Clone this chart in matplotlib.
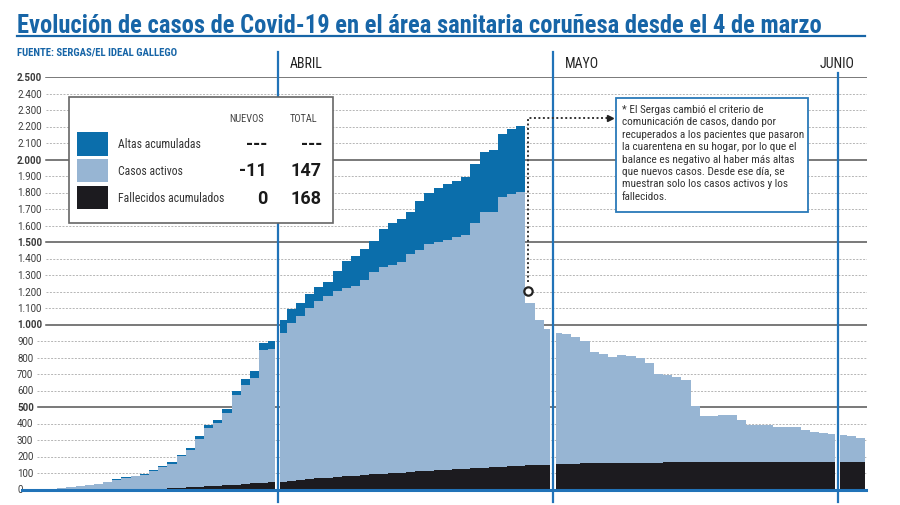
import numpy as np
import matplotlib
matplotlib.use("Agg")
import matplotlib.pyplot as plt
from matplotlib.patches import Rectangle
from matplotlib.lines import Line2D
from matplotlib import transforms

# Datos diarios, del 4 de marzo al 3 de junio
fallecidos_marzo = [0, 0, 0, 0, 0, 0, 0, 0, 0, 0, 0, 0, 2, 3, 4, 6, 8, 10, 13, 16,
                    19, 22, 26, 30, 34, 38, 41, 44]
activos_marzo = [1, 2, 3, 5, 8, 13, 19, 27, 36, 48, 60, 72, 77, 84, 108, 131, 149,
                 195, 225, 291, 351, 383, 435, 545, 599, 639, 804, 809]
altas_marzo = [0, 0, 0, 0, 0, 0, 0, 0, 0, 0, 2, 4, 5, 5, 5, 6, 7, 7, 12, 16, 18, 19,
               24, 25, 38, 40, 44, 46]

fallecidos_abril = [48, 53, 58, 63, 67, 71, 75, 79, 83, 87, 91, 95, 99, 103, 107, 111,
                    114, 117, 120, 123, 126, 129, 132, 135, 138, 141, 144, 147, 149, 151]
activos_abril = [900, 959, 992, 1035, 1078, 1099, 1130, 1144, 1152, 1183, 1229, 1255,
                 1264, 1277, 1323, 1339, 1374, 1383, 1395, 1409, 1417, 1485, 1549, 1546,
                 1632, 1647, 1658, 984, 881, 819]
altas_abril = [77, 83, 83, 84, 85, 87, 120, 160, 181, 188, 187, 230, 252, 261, 252, 300,
               312, 325, 336, 340, 348, 356, 365, 378, 387, 398, 404, 0, 0, 0]

fallecidos_mayo = [155, 155, 156, 160, 160, 160, 160, 160, 160, 160, 160, 160, 165, 165,
                   165, 165, 166, 166, 166, 167, 167, 167, 167, 167, 168, 168, 168, 168,
                   168, 168, 168]
activos_mayo = [794, 786, 767, 739, 672, 660, 642, 656, 650, 640, 606, 541, 530, 516, 496,
                340, 278, 278, 284, 283, 255, 225, 225, 221, 210, 210, 208, 190, 179, 173, 171]

fallecidos_junio = [168, 168, 168]
activos_junio = [165, 158, 147]

meses = ["ABRIL", "MAYO", "JUNIO"]
series = ["Altas acumuladas", "Casos activos", "Fallecidos acumulados"]
nuevos = ["---", "-11", "0"]
totales = ["---", "147", "168"]

titulo = "Evolución de casos de Covid-19 en el área sanitaria coruñesa desde el 4 de marzo"
fuente = "FUENTE: SERGAS/EL IDEAL GALLEGO"
nota = ["* El Sergas cambió el criterio de",
        "comunicación de casos, dando por",
        "recuperados a los pacientes que pasaron",
        "la cuarentena en su hogar, por lo que el",
        "balance es negativo al haber más altas",
        "que nuevos casos. Desde ese día, se",
        "muestran solo los casos activos y los",
        "fallecidos."]

# colores
AZUL_OSC = "#0b6eab"
AZUL_CLA = "#97b5d3"
NEGRO = "#1c1b1f"
AZUL_LIN = "#2173b8"
AZUL_TIT = "#1765a7"
COND = ["Liberation Sans Narrow", "Roboto Condensed", "Roboto", "DejaVu Sans"]
ROB = ["Roboto", "DejaVu Sans"]

f = np.array(fallecidos_marzo + fallecidos_abril + fallecidos_mayo + fallecidos_junio, float)
a = np.array(activos_marzo + activos_abril + activos_mayo + activos_junio, float)
al = np.array(altas_marzo + altas_abril, float)
al = np.concatenate([al, np.zeros(len(a) - len(al))])
n = len(a)

W, H = 900, 506
DAY = 9.18
X0, Y0 = 20.5, 490.5
PXV = 0.165
XMAX = 92.25

fig = plt.figure(figsize=(9, 5.06), dpi=100)
fig.patch.set_facecolor("white")
ax = fig.add_axes([X0 / W, (H - Y0) / H, XMAX * DAY / W, 2500 * PXV / H])
ax.set_xlim(0, XMAX)
ax.set_ylim(0, 2500)
ax.axis("off")

def fx(x):
    return x / W

def fy(y):
    return 1 - y / H

# escalones diarios por mes, con un hueco junto a cada cambio de mes
cortes = np.cumsum([len(activos_marzo), len(activos_abril), len(activos_mayo)])
g = 0.3
tramos = [0] + list(cortes) + [n]
for k in range(len(tramos) - 1):
    s, e = tramos[k], tramos[k + 1]
    x0 = s + (g if k > 0 else 0)
    x1 = e - (g if k < len(tramos) - 2 else 0)
    edges = np.concatenate([[x0], np.arange(s + 1, e, dtype=float), [x1]])
    b1 = f[s:e]
    b2 = b1 + a[s:e]
    b3 = b2 + al[s:e]
    ax.stairs(b1, edges, baseline=0, fill=True, color=NEGRO, lw=0, zorder=2)
    ax.stairs(b2, edges, baseline=b1, fill=True, color=AZUL_CLA, lw=0, zorder=2)
    if al[s:e].sum() > 0:
        ax.stairs(b3, edges, baseline=b2, fill=True, color=AZUL_OSC, lw=0, zorder=2)

# etiquetas del eje y y lineas de guia
tr = transforms.blended_transform_factory(fig.transFigure, ax.transData)
ticks = list(range(0, 2501, 100))
etiq = []
for v in ticks:
    t = ax.text(fx(17), v, f"{v:,}".replace(",", "."), transform=tr, ha="left",
                va="center", fontsize=7, family=ROB, color="#3a3a3a",
                fontweight="bold" if (v % 500 == 0 and v > 0) else "normal")
    etiq.append(t)

# titulo
t_tit = fig.text(fx(17), fy(33), titulo, fontsize=16, fontweight="heavy",
                 color=AZUL_TIT, family=COND, va="baseline", ha="left")
t_fue = fig.text(fx(17), fy(55), fuente, fontsize=7, fontweight="bold",
                 color=AZUL_TIT, family=COND, va="baseline", ha="left")
t_nota = []
for i, linea in enumerate(nota):
    t_nota.append(fig.text(fx(622), fy(110 + i * 12.4), linea, fontsize=7,
                           color="#333333", family=COND, va="center", ha="left"))

fig.canvas.draw()
rend = fig.canvas.get_renderer()

def ajustar(t, ancho):
    w = t.get_window_extent(rend).width
    t.set_fontsize(t.get_fontsize() * ancho / w)

ajustar(t_tit, 804)
ajustar(t_fue, 160)
ajustar(t_nota[2], 183)
for t in t_nota:
    t.set_fontsize(t_nota[2].get_fontsize())
fig.canvas.draw()

for v, t in zip(ticks, etiq):
    if v == 0:
        continue
    x1 = t.get_window_extent(rend).x1 + 4
    xmin = (x1 - X0) / (XMAX * DAY)
    if v % 500 == 0:
        ax.axhline(v, xmin=xmin, xmax=1, color="#555555", lw=1.1, zorder=1)
    else:
        ax.axhline(v, xmin=xmin, xmax=1, color="#b5b5b5", lw=0.7,
                   ls=(0, (2, 1.5)), zorder=1)

ax.axhline(0, xmin=0.002, xmax=0.998, color=AZUL_LIN, lw=2.2, zorder=4, clip_on=False)

# lineas de cambio de mes
trm = transforms.blended_transform_factory(ax.transData, ax.transAxes)
tops = [1.06, 1.06, 1.01]
for c, top in zip(cortes, tops):
    ax.axvline(c, ymin=-0.03, ymax=top, color=AZUL_LIN, lw=1.6, zorder=5, clip_on=False)
for c, mes in zip(cortes, meses):
    if mes == "JUNIO":
        ax.text(c + 1.9, 1.024, mes, transform=trm, ha="right", va="baseline",
                fontsize=10, family=COND, color="#222222")
    else:
        ax.text(c + 1.35, 1.024, mes, transform=trm, ha="left", va="baseline",
                fontsize=10, family=COND, color="#222222")

fig.add_artist(Line2D([fx(17), fx(865)], [fy(37), fy(37)], color=AZUL_TIT, lw=1.6))

# conector de la nota
xc = cortes[1] - 2.7
ax.plot([xc, xc, 63.9], [1260, 2250, 2250], color="#333333", lw=1.4,
        ls=(0, (1, 1.3)), zorder=6, clip_on=False)
ax.plot([64.2], [2250], marker=">", color="#222222", ms=5, zorder=6, clip_on=False)
ax.plot([xc], [1205], marker="o", mfc="white", mec="#222222", ms=6, mew=1.6,
        zorder=7, clip_on=False)

# caja de la nota
fig.patches.append(Rectangle((fx(616), fy(213)), fx(808) - fx(616), fy(99) - fy(213),
                             transform=fig.transFigure, fc="white", ec="#2a7ab9",
                             lw=1.3, zorder=1))

# leyenda
fig.patches.append(Rectangle((fx(69), fy(224)), fx(333) - fx(69), fy(98) - fy(224),
                             transform=fig.transFigure, fc="white", ec="#666666",
                             lw=1.2, zorder=1))
fig.text(fx(247), fy(119), "NUEVOS", ha="center", va="center", fontsize=7.5,
         family=COND, color="#444444")
fig.text(fx(303), fy(119), "TOTAL", ha="center", va="center", fontsize=7.5,
         family=COND, color="#444444")
colores = [AZUL_OSC, AZUL_CLA, NEGRO]
ys = [(133, 157), (160, 183), (187, 210)]
for i in range(3):
    y0, y1 = ys[i]
    fig.patches.append(Rectangle((fx(77), fy(y1)), fx(108) - fx(77), fy(y0) - fy(y1),
                                 transform=fig.transFigure, fc=colores[i], ec="none",
                                 zorder=2))
    yc = (y0 + y1) / 2
    fig.text(fx(118), fy(yc), series[i], ha="left", va="center", fontsize=8.5,
             family=COND, color="#333333")
    fig.text(fx(267), fy(yc), nuevos[i], ha="right", va="center", fontsize=13,
             fontweight="bold", family=ROB, color="#1a1a1a")
    fig.text(fx(322), fy(yc), totales[i], ha="right", va="center", fontsize=13,
             fontweight="bold", family=ROB, color="#1a1a1a")

fig.savefig("out.png", dpi=100)
